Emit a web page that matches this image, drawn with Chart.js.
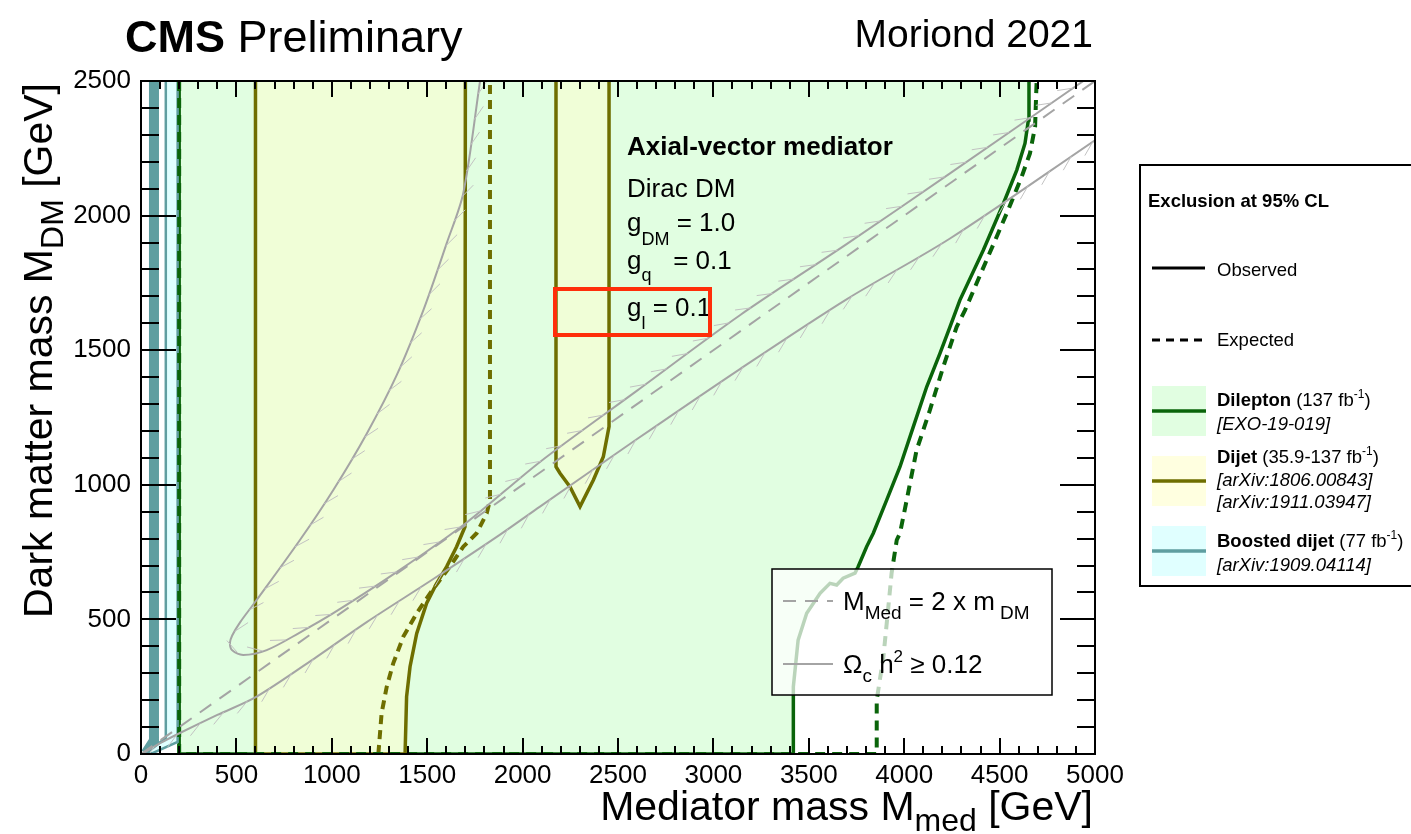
<!DOCTYPE html>
<html>
<head>
<meta charset="utf-8">
<script src="https://cdn.jsdelivr.net/npm/chart.js@4.4.1/dist/chart.umd.min.js"></script>
<style>
  html, body { margin: 0; padding: 0; background: #fff; overflow: hidden; }
  canvas { display: block; }
</style>
</head>
<body>
<canvas id="c" width="1411" height="834"></canvas>
<script>
// ---- axis ticks ----
const xTicks = [0, 500, 1000, 1500, 2000, 2500, 3000, 3500, 4000, 4500, 5000];
const yTicks = [0, 500, 1000, 1500, 2000, 2500];

// ---- Dilepton (137 fb-1), observed and expected contours ----
const dilepObsX = [200, 200, 3419, 3419, 3444, 3489, 3559, 3611, 3646, 3680, 3742, 3758, 3803, 3838, 3908, 3978, 4048, 4118, 4188, 4240, 4292, 4415, 4520, 4590, 4633, 4651, 4654];
const dilepObsY = [2500, 0, 0, 250, 423, 523, 597, 634, 628, 653, 672, 695, 770, 820, 943, 1067, 1216, 1364, 1489, 1587, 1686, 1872, 2045, 2169, 2268, 2355, 2500];
const dilepExpX = [200, 200, 3856, 3856, 3891, 3917, 3934, 3961, 3978, 4013, 4065, 4135, 4205, 4275, 4319, 4432, 4537, 4616, 4659, 4686, 4694];
const dilepExpY = [2500, 0, 0, 200, 361, 547, 672, 795, 820, 943, 1129, 1278, 1439, 1587, 1649, 1835, 2008, 2145, 2231, 2330, 2500];

// ---- Dijet (35.9-137 fb-1) ----
const dijetObsX = [600, 600, 1384, 1392, 1410, 1445, 1497, 1550, 1602, 1654, 1698, 1700];
const dijetObsY = [2500, 0, 0, 213, 324, 448, 560, 634, 696, 770, 844, 2500];
const dijetExpX = [1244, 1261, 1288, 1322, 1375, 1445, 1515, 1619, 1689, 1759, 1812, 1829, 1829];
const dijetExpY = [0, 151, 250, 337, 436, 523, 597, 696, 770, 820, 894, 943, 2500];
const dijetIslandX = [2175, 2175, 2196, 2248, 2301, 2371, 2423, 2453, 2453];
const dijetIslandY = [2500, 1067, 1043, 993, 919, 1018, 1104, 1216, 2500];

// ---- Boosted dijet (77 fb-1) ----
const boostObsX = [130, 130, 28, 60, 192, 192];
const boostObsY = [2500, 60, 3, 3, 45, 2500];
const boostExpX = [162, 162, 50];
const boostExpY = [2500, 55, 3];
const boostBandX = [68, 68, 25];
const boostBandY = [2500, 50, 3];

// ---- relic density (Omega_c h^2 >= 0.12) and M_med = 2 m_DM ----
const relicLoopX = [1777, 1689, 1602, 1480, 1342, 1183, 1008, 833, 606, 520, 478, 466, 478, 536, 659, 830, 1008, 1357, 1707, 2091, 2600, 3139, 3700, 4240, 4939];
const relicLoopY = [2500, 2083, 1897, 1649, 1410, 1190, 981, 795, 572, 490, 440, 412, 385, 368, 386, 450, 523, 684, 860, 1085, 1350, 1630, 1895, 2157, 2500];
const relicLowX = [10, 100, 204, 400, 606, 921, 1183, 1532, 1882, 2091, 2600, 3139, 3700, 4240, 5000];
const relicLowY = [2, 40, 78, 145, 213, 361, 490, 650, 815, 919, 1170, 1430, 1690, 1915, 2280];
const diagX = [0, 5000];
const diagY = [0, 2500];

const FONT = '"Liberation Sans", Arial, Helvetica, sans-serif';
const C_DILEP = '#0a640a', C_DIJET = '#6e6e00', C_BOOST = '#5f9ea0', C_RELIC = '#a4a4a4';
const F_DILEP = 'rgb(225,254,225)', F_DIJET = 'rgb(240,254,215)', F_BOOST = 'rgb(224,255,255)';

function pts(xs, ys) { return xs.map((x, i) => ({ x: x, y: ys[i] })); }

function lineSet(xs, ys, o) {
  return Object.assign({
    data: pts(xs, ys), showLine: true, pointRadius: 0, borderWidth: 2,
    tension: 0, clip: 0, fill: false
  }, o);
}

function fontStr(p) {
  return (p.i ? 'italic ' : '') + (p.b ? 'bold ' : '') + p.s + 'px ' + FONT;
}
// draws a run of text pieces (with sub/superscripts) on one baseline
function rich(ctx, parts, x, y, align) {
  let w = 0;
  parts.forEach(p => { ctx.font = fontStr(p); w += ctx.measureText(p.t).width; });
  let cx = align === 'right' ? x - w : (align === 'center' ? x - w / 2 : x);
  ctx.textAlign = 'left';
  ctx.textBaseline = 'alphabetic';
  parts.forEach(p => {
    ctx.font = fontStr(p);
    ctx.fillText(p.t, cx, y + (p.dy || 0));
    cx += ctx.measureText(p.t).width;
  });
}

const HATCH_GAP = 26, HATCH_LEN = 16, HATCH_ANG = 26 * Math.PI / 180;

const decor = {
  id: 'decor',
  afterDatasetsDraw(chart) {
    const ctx = chart.ctx, a = chart.chartArea;
    const xs = chart.scales.x, ys = chart.scales.y;
    // hatching on the excluded side of the relic curves
    ctx.save();
    ctx.beginPath();
    ctx.rect(a.left, a.top, a.right - a.left, a.bottom - a.top);
    ctx.clip();
    chart.data.datasets.forEach((ds, i) => {
      if (!ds.hatchSide) return;
      const p = chart.getDatasetMeta(i).data.map(e => [e.x, e.y]);
      ctx.beginPath();
      let carry = HATCH_GAP / 2;
      for (let k = 1; k < p.length; k++) {
        const x0 = p[k - 1][0], y0 = p[k - 1][1], x1 = p[k][0], y1 = p[k][1];
        const L = Math.hypot(x1 - x0, y1 - y0);
        if (!L) continue;
        const tx = (x1 - x0) / L, ty = (y1 - y0) / L;
        const nx = -ty * ds.hatchSide, ny = tx * ds.hatchSide;
        const hx = -tx * Math.cos(HATCH_ANG) + nx * Math.sin(HATCH_ANG);
        const hy = -ty * Math.cos(HATCH_ANG) + ny * Math.sin(HATCH_ANG);
        let s = carry;
        while (s < L) {
          const px = x0 + tx * s, py = y0 + ty * s;
          ctx.moveTo(px, py);
          ctx.lineTo(px + hx * HATCH_LEN, py + hy * HATCH_LEN);
          s += HATCH_GAP;
        }
        carry = s - L;
      }
      ctx.strokeStyle = '#c2c2c2';
      ctx.lineWidth = 1;
      ctx.stroke();
    });
    ctx.restore();

    // frame and inward ticks
    ctx.save();
    ctx.strokeStyle = '#000';
    ctx.lineWidth = 2;
    ctx.beginPath();
    for (let v = 0; v <= 5000; v += 100) {
      const px = Math.round(xs.getPixelForValue(v));
      const len = xTicks.includes(v) ? 16 : 8;
      ctx.moveTo(px, a.bottom); ctx.lineTo(px, a.bottom - len);
      ctx.moveTo(px, a.top); ctx.lineTo(px, a.top + len);
    }
    for (let v = 0; v <= 2500; v += 100) {
      const py = Math.round(ys.getPixelForValue(v));
      const len = yTicks.includes(v) ? 35 : 18;
      ctx.moveTo(a.left, py); ctx.lineTo(a.left + len, py);
      ctx.moveTo(a.right, py); ctx.lineTo(a.right - len, py);
    }
    ctx.stroke();
    ctx.strokeRect(a.left, a.top, a.right - a.left, a.bottom - a.top);
    ctx.restore();
  },
  afterDraw(chart) {
    const ctx = chart.ctx;
    ctx.save();
    ctx.fillStyle = '#000';

    // header
    rich(ctx, [{ t: 'CMS', s: 45, b: true }, { t: ' Preliminary', s: 45 }], 125, 52, 'left');
    rich(ctx, [{ t: 'Moriond 2021', s: 39 }], 1093, 47, 'right');

    // axis titles
    rich(ctx, [{ t: 'Mediator mass M', s: 41 }, { t: 'med', s: 32, dy: 11 }, { t: ' [GeV]', s: 41 }], 1093, 820, 'right');
    ctx.save();
    ctx.translate(52, 83);
    ctx.rotate(-Math.PI / 2);
    rich(ctx, [{ t: 'Dark matter mass M', s: 41 }, { t: 'DM', s: 32, dy: 11 }, { t: ' [GeV]', s: 41 }], 0, 0, 'right');
    ctx.restore();

    // model description
    rich(ctx, [{ t: 'Axial-vector mediator', s: 26, b: true }], 627, 155, 'left');
    rich(ctx, [{ t: 'Dirac DM', s: 26 }], 627, 197, 'left');
    rich(ctx, [{ t: 'g', s: 26 }, { t: 'DM', s: 18, dy: 14 }, { t: ' = 1.0', s: 26 }], 627, 231, 'left');
    rich(ctx, [{ t: 'g', s: 26 }, { t: 'q', s: 18, dy: 12 }, { t: '   = 0.1', s: 26 }], 627, 269, 'left');
    rich(ctx, [{ t: 'g', s: 26 }, { t: 'l', s: 18, dy: 13 }, { t: ' = 0.1', s: 26 }], 627, 316, 'left');
    ctx.strokeStyle = '#ff2e0a';
    ctx.lineWidth = 4;
    ctx.strokeRect(555, 289, 155, 46);

    // relic legend inside the frame
    ctx.fillStyle = 'rgba(255,255,255,0.72)';
    ctx.fillRect(772, 569, 280, 126);
    ctx.strokeStyle = '#000';
    ctx.lineWidth = 1.5;
    ctx.strokeRect(772, 569, 280, 126);
    ctx.strokeStyle = C_RELIC;
    ctx.lineWidth = 2;
    ctx.setLineDash([13, 9]);
    ctx.beginPath(); ctx.moveTo(783, 601); ctx.lineTo(833, 601); ctx.stroke();
    ctx.setLineDash([]);
    ctx.beginPath(); ctx.moveTo(783, 664); ctx.lineTo(833, 664); ctx.stroke();
    ctx.fillStyle = '#000';
    rich(ctx, [{ t: 'M', s: 26 }, { t: 'Med', s: 19, dy: 9 }, { t: ' = 2 x m', s: 26 }, { t: ' DM', s: 19, dy: 9 }], 843, 610, 'left');
    rich(ctx, [{ t: '\u03A9', s: 26 }, { t: 'c', s: 19, dy: 9 }, { t: ' h', s: 26 }, { t: '2', s: 17, dy: -11 }, { t: ' \u2265 0.12', s: 26 }], 843, 673, 'left');

    // exclusion legend on the right
    ctx.strokeStyle = '#000';
    ctx.lineWidth = 2;
    ctx.strokeRect(1140, 165, 300, 421);
    rich(ctx, [{ t: 'Exclusion at 95% CL', s: 18.5, b: true }], 1148, 207, 'left');
    ctx.lineWidth = 3;
    ctx.beginPath(); ctx.moveTo(1152, 268); ctx.lineTo(1205, 268); ctx.stroke();
    ctx.setLineDash([8, 6]);
    ctx.beginPath(); ctx.moveTo(1152, 340); ctx.lineTo(1205, 340); ctx.stroke();
    ctx.setLineDash([]);
    rich(ctx, [{ t: 'Observed', s: 18.5 }], 1217, 276, 'left');
    rich(ctx, [{ t: 'Expected', s: 18.5 }], 1217, 346, 'left');

    const entries = [
      { y: 386, fill: F_DILEP, line: C_DILEP, lines: [
        [{ t: 'Dilepton', s: 18.5, b: true }, { t: ' (137 fb', s: 18.5 }, { t: '-1', s: 12, dy: -8 }, { t: ')', s: 18.5 }],
        [{ t: '[EXO-19-019]', s: 18.5, i: true }]], base: [406, 430] },
      { y: 456, fill: 'rgb(255,255,224)', line: C_DIJET, lines: [
        [{ t: 'Dijet', s: 18.5, b: true }, { t: ' (35.9-137 fb', s: 18.5 }, { t: '-1', s: 12, dy: -8 }, { t: ')', s: 18.5 }],
        [{ t: '[arXiv:1806.00843]', s: 18.5, i: true }],
        [{ t: '[arXiv:1911.03947]', s: 18.5, i: true }]], base: [463, 486, 508] },
      { y: 526, fill: F_BOOST, line: C_BOOST, lines: [
        [{ t: 'Boosted dijet', s: 18.5, b: true }, { t: ' (77 fb', s: 18.5 }, { t: '-1', s: 12, dy: -8 }, { t: ')', s: 18.5 }],
        [{ t: '[arXiv:1909.04114]', s: 18.5, i: true }]], base: [547, 571] }
    ];
    entries.forEach(e => {
      ctx.fillStyle = e.fill;
      ctx.fillRect(1152, e.y, 54, 50);
      ctx.strokeStyle = e.line;
      ctx.lineWidth = 3.5;
      ctx.beginPath(); ctx.moveTo(1152, e.y + 25); ctx.lineTo(1206, e.y + 25); ctx.stroke();
      ctx.fillStyle = '#000';
      e.lines.forEach((ln, k) => rich(ctx, ln, 1217, e.base[k], 'left'));
    });
    ctx.restore();
  }
};

new Chart(document.getElementById('c'), {
  type: 'scatter',
  data: {
    datasets: [
      lineSet(dilepObsX, dilepObsY, { order: 10, borderColor: C_DILEP, borderWidth: 3.5, fill: 'shape', backgroundColor: F_DILEP }),
      lineSet(dijetObsX, dijetObsY, { order: 9, borderColor: C_DIJET, borderWidth: 3.5, fill: 'shape', backgroundColor: F_DIJET }),
      lineSet(dijetIslandX, dijetIslandY, { order: 9, borderColor: C_DIJET, borderWidth: 3.5, fill: 'shape', backgroundColor: F_DIJET }),
      lineSet(boostObsX, boostObsY, { order: 8, borderColor: C_BOOST, borderWidth: 2.5, fill: 'shape', backgroundColor: F_BOOST }),
      lineSet(boostExpX, boostExpY, { order: 8, borderColor: C_BOOST, borderWidth: 2.5 }),
      lineSet(boostBandX, boostBandY, { order: 8, borderColor: C_BOOST, borderWidth: 10 }),
      lineSet(dilepExpX, dilepExpY, { order: 7, borderColor: C_DILEP, borderWidth: 4, borderDash: [10, 7] }),
      lineSet(dijetExpX, dijetExpY, { order: 7, borderColor: C_DIJET, borderWidth: 4, borderDash: [9, 6] }),
      lineSet(diagX, diagY, { order: 5, borderColor: C_RELIC, borderWidth: 2, borderDash: [14, 10] }),
      lineSet(relicLoopX, relicLoopY, { order: 5, borderColor: C_RELIC, borderWidth: 2, hatchSide: -1, tension: 0.3 }),
      lineSet(relicLowX, relicLowY, { order: 5, borderColor: C_RELIC, borderWidth: 2, hatchSide: 1, tension: 0.3 })
    ]
  },
  options: {
    responsive: false,
    animation: false,
    devicePixelRatio: 1,
    layout: { padding: { left: 0, top: 81, right: 316, bottom: 0 } },
    plugins: { legend: { display: false }, tooltip: { enabled: false } },
    scales: {
      x: {
        type: 'linear', min: 0, max: 5000,
        afterBuildTicks: s => { s.ticks = xTicks.map(v => ({ value: v })); },
        afterFit: s => { s.height = 80; },
        grid: { display: false, drawTicks: false },
        border: { display: false },
        ticks: { autoSkip: false, maxRotation: 0, padding: 6, color: '#000',
                 font: { family: FONT, size: 26 }, callback: v => String(v) }
      },
      y: {
        type: 'linear', min: 0, max: 2500,
        afterBuildTicks: s => { s.ticks = yTicks.map(v => ({ value: v })); },
        afterFit: s => { s.width = 141; },
        grid: { display: false, drawTicks: false },
        border: { display: false },
        ticks: { autoSkip: false, padding: 10, color: '#000',
                 font: { family: FONT, size: 26 }, callback: v => String(v) }
      }
    }
  },
  plugins: [decor]
});
</script>
</body>
</html>
